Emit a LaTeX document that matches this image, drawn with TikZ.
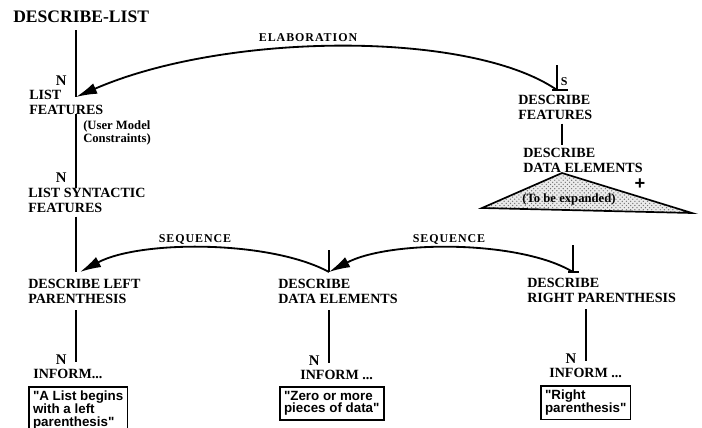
\documentclass[tikz,border=0pt]{standalone}
\usepackage{fontspec}
\setmainfont{Liberation Serif}
\setsansfont{Liberation Sans}
\usetikzlibrary{arrows.meta,patterns}
\pgfdeclarelayer{bg}
\pgfsetlayers{bg,main}
\tikzset{
  goal/.style={anchor=west, inner sep=0pt, align=left, font=\fontsize{10}{10.6}\selectfont\bfseries},
  msg/.style={draw, line width=1.2pt, anchor=north west, inner xsep=3pt, inner ysep=3pt, align=left, font=\fontsize{9.5}{9}\selectfont\sffamily\bfseries},
  rel/.style={inner sep=0pt, font=\fontsize{8.5}{8.5}\selectfont\bfseries\addfontfeature{LetterSpace=8}},
  nl/.style={left=6pt, inner sep=0pt, font=\fontsize{10.5}{10}\selectfont\bfseries},
  link/.style={line width=1.4pt},
  arc/.style={line width=1.3pt, -{Latex[length=15pt,width=8pt]}},
}
\begin{document}
\begin{tikzpicture}[x=0.025cm, y=-0.025cm]
        \useasboundingbox (0,0) rectangle (702,427);
        \node (t) [goal, font=\fontsize{12.5}{14}\selectfont\bfseries] at (13,17) {DESCRIBE-LIST};
        \node (lf) [goal] at (29,102) {LIST\\FEATURES};
        \node (um) [goal, font=\fontsize{9}{8}\selectfont\bfseries] at (83,133) {(User Model\\Constraints)};
        \node (lsf) [goal] at (28,200) {LIST SYNTACTIC\\FEATURES};
        \node (dlp) [goal] at (28,291) {DESCRIBE LEFT\\PARENTHESIS};
        \node (dde) [goal] at (278,291) {DESCRIBE\\DATA ELEMENTS};
        \node (drp) [goal] at (527,290) {DESCRIBE\\RIGHT PARENTHESIS};
        \node (df) [goal] at (518,107) {DESCRIBE\\FEATURES};
        \node (dde2) [goal] at (523,160) {DESCRIBE\\DATA ELEMENTS};
        \node (i1) [goal] at (33,374) {INFORM...};
        \node (i2) [goal] at (300,375) {INFORM ...};
        \node (i3) [goal] at (549,373) {INFORM ...};
        \node (b1) [msg] at (28,386) {\textquotedbl A List begins\\with a left\\parenthesis\textquotedbl};
        \node (b2) [msg] at (279,386) {\textquotedbl Zero or more\\pieces of data\textquotedbl};
        \node (b3) [msg] at (540,385) {\textquotedbl Right\\parenthesis\textquotedbl};
        \node (elab) [rel] at (308,38) {ELABORATION};
        \node (seq1) [rel] at (195,240) {SEQUENCE};
        \node (seq2) [rel] at (449,240) {SEQUENCE};
        \coordinate (lfin) at (76,97);
        \coordinate (dlpin) at (80,272);
        \coordinate (ddein) at (329,272);
        \coordinate (drpin) at (573,272);
        \coordinate (dfin) at (557,90);
        \coordinate (dfout) at (562,0);
        % to be expanded
        \draw [line width=1.2pt, preaction={fill=black!8}, pattern=crosshatch dots, pattern color=black!55] (482,208) -- (562,173) -- (692,213) -- cycle;
        \node (tbe) [inner sep=0pt, font=\fontsize{9}{9}\selectfont\bfseries] at (569,199) {(To be expanded)};
        \node (plus) [inner sep=0pt, font=\fontsize{13}{13}\selectfont\sffamily\bfseries] at (640,184) {+};
        \begin{pgfonlayer}{bg}
                \draw (t.south -| lfin) edge [link, shorten <=5pt] node [nl, pos=.78] {N} (lfin);
                \draw (lf.south -| lfin) edge [link] node [nl, pos=.87] {N} (lsf.north -| lfin);
                \draw (lsf.south -| lfin) edge [link, shorten <=3pt] (lfin |- dlpin);
                \draw (dlp.south -| lfin) edge [link, shorten <=5pt, shorten >=5pt] node [nl, pos=.86] {N} (i1.north -| lfin);
                \draw (dde.south -| ddein) edge [link, shorten <=5pt, shorten >=5pt] node [nl, pos=.86] {N} (i2.north -| ddein);
                \draw (drp.south -| i3.north) edge [link, shorten <=5pt, shorten >=5pt] node [nl, pos=.86] {N} (i3.north);
                \draw (dfout |- df.south) edge [link, shorten <=3pt, shorten >=2pt] (dfout |- dde2.north);
                \draw [link] (ddein) -- ++(0,-22);
                \draw [link] (drpin) -- ++(0,-27);
                \draw [link] (drpin) ++(-5,0) -- ++(11,0);
                \draw [link] (dfin) -- node [pos=.32, right=2pt, inner sep=0pt, font=\fontsize{8.5}{8}\selectfont\bfseries] {S} ++(0,-25);
                \draw [link] (dfin) ++(-5,0) -- ++(16,0);
                \draw [arc] (dfin) .. controls (470,30) and (225,32) .. (lfin);
                \draw [arc] (ddein) .. controls (270,240) and (140,240) .. (dlpin);
                \draw [arc] (drpin) .. controls (520,240) and (390,240) .. (ddein);
        \end{pgfonlayer}
\end{tikzpicture}
\end{document}
